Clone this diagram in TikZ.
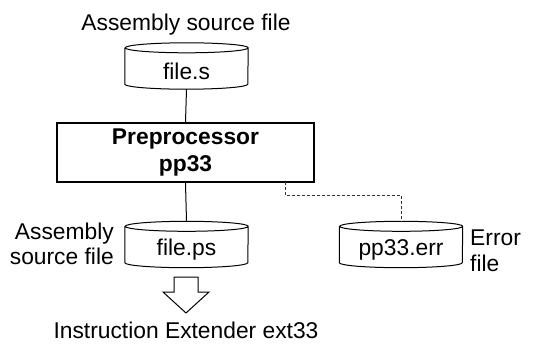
\documentclass[tikz,border=0pt]{standalone}
\usepackage{fontspec}
\setmainfont{Liberation Sans}
\begin{document}
\begin{tikzpicture}[x=1pt,y=-1pt,
  txt/.style={font=\fontsize{22.8}{25.5}\selectfont, inner sep=0pt},
  cylbody/.style={txt, minimum width=123pt, minimum height=36pt},
  procbox/.style={draw, line width=2pt, minimum width=257pt, minimum height=59pt, align=center,
    font=\fontsize{22.8}{27}\selectfont\bfseries, inner sep=0pt},
  conn/.style={line width=1pt},
  dconn/.style={line width=0.9pt, dash pattern=on 3pt off 2pt, black!80}
]
\useasboundingbox (0,0) rectangle (533,343);
\newcommand{\cyl}[1]{%
  \draw[line width=1pt, fill=white] ([yshift=5pt]#1.north west) -- ([yshift=5pt]#1.south west)
    arc[start angle=180, end angle=360, x radius=61.5pt, y radius=5pt]
    -- ([yshift=5pt]#1.north east)
    arc[start angle=0, end angle=180, x radius=61.5pt, y radius=5pt]
    arc[start angle=180, end angle=360, x radius=61.5pt, y radius=5pt];}

\node[txt] (lbltop) at (186,25) {Assembly source file};
\node[cylbody] (fs) at (186.5,71) {};
\cyl{fs}
\node[txt] at (fs.center) {file.s};

\node[procbox] (pp) at (185.5,152.5) {Preprocessor\\pp33};

\node[cylbody] (fp) at (186.5,249.5) {};
\cyl{fp}
\node[txt] at (fp.center) {file.ps};

\node[cylbody] (fe) at (401,249.5) {};
\cyl{fe}
\node[txt] at (fe.center) {pp33.err};

\node[txt, align=right, anchor=east] (lblps) at (114,244) {Assembly\\source file};
\node[txt, align=left, anchor=west] (lblerr) at (470,251) {Error\\file};

\draw[conn] (fs.south) -- (pp.north);
\draw[conn] (pp.south) -- ([yshift=10pt]fp.north);
\coordinate (d1) at (285,182);
\coordinate (d2) at (285,195);
\coordinate (d3) at (401,195);
\draw[dconn] (d1) -- (d2) -- (d3) -- ([yshift=10pt]fe.north);

% hollow block arrow
\coordinate (at) at (186,313);
\draw[line width=1pt, fill=white] (174,277) -- (198,277) -- (198,292) -- (209,292) -- (at) -- (163,292) -- (174,292) -- cycle;

\node[txt] (lblbot) at (186,330) {Instruction Extender ext33};
\end{tikzpicture}
\end{document}
